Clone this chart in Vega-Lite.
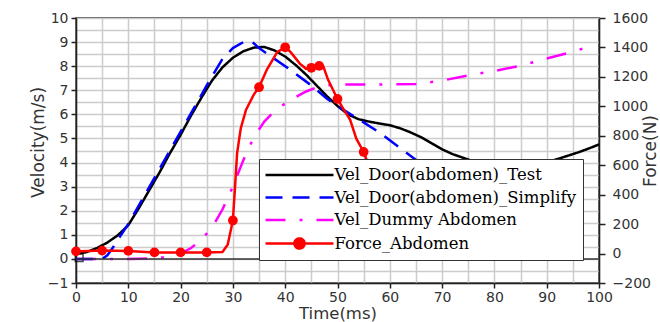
{
  "$schema": "https://vega.github.io/schema/vega-lite/v6.json",
  "width": 523,
  "height": 265,
  "autosize": "none",
  "padding": {"left": 76, "top": 18, "right": 61, "bottom": 39},
  "background": "white",
  "config": {
    "view": {"stroke": "#222", "strokeWidth": 1.5},
    "axis": {
      "labelFont": "DejaVu Sans", "labelFontSize": 14, "labelColor": "#333",
      "titleFont": "DejaVu Sans", "titleFontSize": 17, "titleFontWeight": "normal", "titleColor": "#333",
      "domainColor": "#222", "domainWidth": 1.5, "tickColor": "#222", "tickWidth": 1.5, "tickSize": 5,
      "gridColor": "#cccccc", "gridWidth": 1.5, "gridOpacity": 1, "labelFlush": false, "labelOverlap": false
    },
    "legend": {
      "orient": "none", "legendX": 183, "legendY": 141,
      "fillColor": "white", "strokeColor": "#333", "padding": 6,
      "labelFont": "DejaVu Serif", "labelFontSize": 16.5, "labelColor": "#000", "labelLimit": 0,
      "symbolSize": 289, "symbolStrokeWidth": 2.5, "symbolOffset": 24.5, "labelOffset": 25, "rowPadding": 3.5
    }
  },
  "datasets": {
    "vel": [
      {"series": "Vel_Dummy Abdomen", "t": 0, "v": 0},
      {"series": "Vel_Dummy Abdomen", "t": 10, "v": 0},
      {"series": "Vel_Dummy Abdomen", "t": 15, "v": 0.02},
      {"series": "Vel_Dummy Abdomen", "t": 18, "v": 0.1},
      {"series": "Vel_Dummy Abdomen", "t": 20, "v": 0.22},
      {"series": "Vel_Dummy Abdomen", "t": 22, "v": 0.45},
      {"series": "Vel_Dummy Abdomen", "t": 24, "v": 0.8},
      {"series": "Vel_Dummy Abdomen", "t": 26, "v": 1.3},
      {"series": "Vel_Dummy Abdomen", "t": 28, "v": 2.05},
      {"series": "Vel_Dummy Abdomen", "t": 30, "v": 3.0},
      {"series": "Vel_Dummy Abdomen", "t": 32, "v": 4.1},
      {"series": "Vel_Dummy Abdomen", "t": 34, "v": 5.05},
      {"series": "Vel_Dummy Abdomen", "t": 36, "v": 5.7},
      {"series": "Vel_Dummy Abdomen", "t": 38, "v": 6.15},
      {"series": "Vel_Dummy Abdomen", "t": 40, "v": 6.45},
      {"series": "Vel_Dummy Abdomen", "t": 42, "v": 6.72},
      {"series": "Vel_Dummy Abdomen", "t": 44, "v": 6.95},
      {"series": "Vel_Dummy Abdomen", "t": 46, "v": 7.12},
      {"series": "Vel_Dummy Abdomen", "t": 48, "v": 7.2},
      {"series": "Vel_Dummy Abdomen", "t": 50, "v": 7.24},
      {"series": "Vel_Dummy Abdomen", "t": 55, "v": 7.24},
      {"series": "Vel_Dummy Abdomen", "t": 60, "v": 7.24},
      {"series": "Vel_Dummy Abdomen", "t": 65, "v": 7.26},
      {"series": "Vel_Dummy Abdomen", "t": 70, "v": 7.4},
      {"series": "Vel_Dummy Abdomen", "t": 75, "v": 7.62},
      {"series": "Vel_Dummy Abdomen", "t": 80, "v": 7.8},
      {"series": "Vel_Dummy Abdomen", "t": 85, "v": 8.02},
      {"series": "Vel_Dummy Abdomen", "t": 90, "v": 8.32},
      {"series": "Vel_Dummy Abdomen", "t": 95, "v": 8.6},
      {"series": "Vel_Dummy Abdomen", "t": 98, "v": 8.8},
      {"series": "Vel_Door(abdomen)_Test", "t": 0, "v": 0.2},
      {"series": "Vel_Door(abdomen)_Test", "t": 2, "v": 0.28},
      {"series": "Vel_Door(abdomen)_Test", "t": 4, "v": 0.45},
      {"series": "Vel_Door(abdomen)_Test", "t": 6, "v": 0.68},
      {"series": "Vel_Door(abdomen)_Test", "t": 8, "v": 0.98},
      {"series": "Vel_Door(abdomen)_Test", "t": 10, "v": 1.4},
      {"series": "Vel_Door(abdomen)_Test", "t": 12, "v": 2.1},
      {"series": "Vel_Door(abdomen)_Test", "t": 14, "v": 2.85},
      {"series": "Vel_Door(abdomen)_Test", "t": 16, "v": 3.6},
      {"series": "Vel_Door(abdomen)_Test", "t": 18, "v": 4.4},
      {"series": "Vel_Door(abdomen)_Test", "t": 20, "v": 5.15},
      {"series": "Vel_Door(abdomen)_Test", "t": 22, "v": 5.95},
      {"series": "Vel_Door(abdomen)_Test", "t": 24, "v": 6.7},
      {"series": "Vel_Door(abdomen)_Test", "t": 26, "v": 7.4},
      {"series": "Vel_Door(abdomen)_Test", "t": 28, "v": 7.95},
      {"series": "Vel_Door(abdomen)_Test", "t": 30, "v": 8.35},
      {"series": "Vel_Door(abdomen)_Test", "t": 32, "v": 8.62},
      {"series": "Vel_Door(abdomen)_Test", "t": 34, "v": 8.77},
      {"series": "Vel_Door(abdomen)_Test", "t": 36, "v": 8.8},
      {"series": "Vel_Door(abdomen)_Test", "t": 38, "v": 8.65},
      {"series": "Vel_Door(abdomen)_Test", "t": 40, "v": 8.4},
      {"series": "Vel_Door(abdomen)_Test", "t": 42, "v": 8.05},
      {"series": "Vel_Door(abdomen)_Test", "t": 44, "v": 7.65},
      {"series": "Vel_Door(abdomen)_Test", "t": 46, "v": 7.2},
      {"series": "Vel_Door(abdomen)_Test", "t": 48, "v": 6.75},
      {"series": "Vel_Door(abdomen)_Test", "t": 50, "v": 6.35},
      {"series": "Vel_Door(abdomen)_Test", "t": 52, "v": 6.0},
      {"series": "Vel_Door(abdomen)_Test", "t": 54, "v": 5.8},
      {"series": "Vel_Door(abdomen)_Test", "t": 56, "v": 5.7},
      {"series": "Vel_Door(abdomen)_Test", "t": 58, "v": 5.62},
      {"series": "Vel_Door(abdomen)_Test", "t": 60, "v": 5.55},
      {"series": "Vel_Door(abdomen)_Test", "t": 62, "v": 5.42},
      {"series": "Vel_Door(abdomen)_Test", "t": 64, "v": 5.25},
      {"series": "Vel_Door(abdomen)_Test", "t": 66, "v": 5.05},
      {"series": "Vel_Door(abdomen)_Test", "t": 68, "v": 4.8},
      {"series": "Vel_Door(abdomen)_Test", "t": 70, "v": 4.55},
      {"series": "Vel_Door(abdomen)_Test", "t": 72, "v": 4.35},
      {"series": "Vel_Door(abdomen)_Test", "t": 74, "v": 4.2},
      {"series": "Vel_Door(abdomen)_Test", "t": 76, "v": 4.05},
      {"series": "Vel_Door(abdomen)_Test", "t": 78, "v": 3.95},
      {"series": "Vel_Door(abdomen)_Test", "t": 80, "v": 3.87},
      {"series": "Vel_Door(abdomen)_Test", "t": 82, "v": 3.83},
      {"series": "Vel_Door(abdomen)_Test", "t": 84, "v": 3.83},
      {"series": "Vel_Door(abdomen)_Test", "t": 86, "v": 3.86},
      {"series": "Vel_Door(abdomen)_Test", "t": 88, "v": 3.92},
      {"series": "Vel_Door(abdomen)_Test", "t": 90, "v": 4.02},
      {"series": "Vel_Door(abdomen)_Test", "t": 92, "v": 4.14},
      {"series": "Vel_Door(abdomen)_Test", "t": 94, "v": 4.28},
      {"series": "Vel_Door(abdomen)_Test", "t": 96, "v": 4.42},
      {"series": "Vel_Door(abdomen)_Test", "t": 98, "v": 4.58},
      {"series": "Vel_Door(abdomen)_Test", "t": 100, "v": 4.75},
      {"series": "Vel_Door(abdomen)_Simplify", "t": 0, "v": 0},
      {"series": "Vel_Door(abdomen)_Simplify", "t": 5, "v": 0},
      {"series": "Vel_Door(abdomen)_Simplify", "t": 6, "v": 0.15},
      {"series": "Vel_Door(abdomen)_Simplify", "t": 7, "v": 0.45},
      {"series": "Vel_Door(abdomen)_Simplify", "t": 8, "v": 0.8},
      {"series": "Vel_Door(abdomen)_Simplify", "t": 10, "v": 1.45},
      {"series": "Vel_Door(abdomen)_Simplify", "t": 13, "v": 2.6},
      {"series": "Vel_Door(abdomen)_Simplify", "t": 16, "v": 3.75},
      {"series": "Vel_Door(abdomen)_Simplify", "t": 19, "v": 4.9},
      {"series": "Vel_Door(abdomen)_Simplify", "t": 22, "v": 6.05},
      {"series": "Vel_Door(abdomen)_Simplify", "t": 25, "v": 7.2},
      {"series": "Vel_Door(abdomen)_Simplify", "t": 28, "v": 8.3},
      {"series": "Vel_Door(abdomen)_Simplify", "t": 30, "v": 8.75},
      {"series": "Vel_Door(abdomen)_Simplify", "t": 32, "v": 9.0},
      {"series": "Vel_Door(abdomen)_Simplify", "t": 33, "v": 9.05},
      {"series": "Vel_Door(abdomen)_Simplify", "t": 34, "v": 8.95},
      {"series": "Vel_Door(abdomen)_Simplify", "t": 35, "v": 8.75},
      {"series": "Vel_Door(abdomen)_Simplify", "t": 40, "v": 8.0},
      {"series": "Vel_Door(abdomen)_Simplify", "t": 45, "v": 7.2},
      {"series": "Vel_Door(abdomen)_Simplify", "t": 48, "v": 6.65},
      {"series": "Vel_Door(abdomen)_Simplify", "t": 50, "v": 6.35},
      {"series": "Vel_Door(abdomen)_Simplify", "t": 54, "v": 5.8},
      {"series": "Vel_Door(abdomen)_Simplify", "t": 58, "v": 5.25},
      {"series": "Vel_Door(abdomen)_Simplify", "t": 62, "v": 4.6},
      {"series": "Vel_Door(abdomen)_Simplify", "t": 66, "v": 3.95},
      {"series": "Vel_Door(abdomen)_Simplify", "t": 70, "v": 3.3}
    ],
    "force": [
      {"t": 0, "F": 15}, {"t": 1, "F": 15}, {"t": 5, "F": 20}, {"t": 10, "F": 18},
      {"t": 15, "F": 8}, {"t": 20, "F": 8}, {"t": 25, "F": 8}, {"t": 28, "F": 10},
      {"t": 29, "F": 60}, {"t": 30, "F": 225}, {"t": 30.4, "F": 450}, {"t": 30.8, "F": 680},
      {"t": 31.5, "F": 850}, {"t": 32.5, "F": 975}, {"t": 34, "F": 1080}, {"t": 35, "F": 1130},
      {"t": 36.5, "F": 1250}, {"t": 38.5, "F": 1370}, {"t": 40, "F": 1401}, {"t": 41, "F": 1370},
      {"t": 42.8, "F": 1290}, {"t": 44, "F": 1255}, {"t": 45, "F": 1262}, {"t": 46.5, "F": 1275},
      {"t": 47.3, "F": 1270}, {"t": 48.2, "F": 1180}, {"t": 50, "F": 1050}, {"t": 51, "F": 990},
      {"t": 52.4, "F": 910}, {"t": 53.6, "F": 780}, {"t": 55, "F": 690}, {"t": 57, "F": 500},
      {"t": 60, "F": 300}
    ],
    "forceMarkers": [
      {"t": 0, "F": 15}, {"t": 5, "F": 20}, {"t": 10, "F": 18}, {"t": 15, "F": 8},
      {"t": 20, "F": 8}, {"t": 25, "F": 8}, {"t": 30, "F": 225}, {"t": 35, "F": 1130},
      {"t": 40, "F": 1401}, {"t": 45, "F": 1262}, {"t": 46.5, "F": 1275}, {"t": 50, "F": 1050},
      {"t": 55, "F": 690}
    ],
    "origin": [{"t": 0.6, "v": 0.05}]
  },
  "layer": [
    {
      "layer": [
        {
          "data": {"name": "vel"},
          "mark": {"type": "line", "strokeWidth": 2.5},
          "encoding": {
            "x": {
              "field": "t", "type": "quantitative",
              "scale": {"domain": [0, 100], "nice": false},
              "axis": {
                "title": "Time(ms)", "grid": true, "titleFontSize": 16.5, "tickCount": 100,
                "values": [0, 5, 10, 15, 20, 25, 30, 35, 40, 45, 50, 55, 60, 65, 70, 75, 80, 85, 90, 95, 100],
                "labelExpr": "datum.value % 10 === 0 ? datum.label : ''",
                "tickSize": {"condition": {"test": "datum.value % 10 !== 0", "value": 0}, "value": 5},
                "labelPadding": 2, "titlePadding": 1.5
              }
            },
            "y": {
              "field": "v", "type": "quantitative",
              "scale": {"domain": [-1, 10], "nice": false},
              "axis": {
                "title": "Velocity(m/s)", "grid": true, "format": ".0f", "tickCount": 100,
                "values": [-1, -0.5, 0, 0.5, 1, 1.5, 2, 2.5, 3, 3.5, 4, 4.5, 5, 5.5, 6, 6.5, 7, 7.5, 8, 8.5, 9, 9.5, 10],
                "labelExpr": "datum.value % 1 === 0 ? datum.label : ''",
                "tickSize": {"condition": {"test": "datum.value % 1 !== 0", "value": 0}, "value": 5},
                "labelPadding": 3, "titlePadding": 0, "titleY": 124
              }
            },
            "color": {
              "field": "series", "type": "nominal",
              "scale": {
                "domain": ["Vel_Door(abdomen)_Test", "Vel_Door(abdomen)_Simplify", "Vel_Dummy Abdomen", "Force_Abdomen"],
                "range": ["#000000", "#0000ff", "#ff00ff", "#ff0000"]
              },
              "sort": ["Vel_Door(abdomen)_Test", "Vel_Door(abdomen)_Simplify", "Vel_Dummy Abdomen", "Force_Abdomen"],
              "legend": {
                "title": null,
                "encode": {
                  "symbols": {
                    "update": {
                      "shape": {"signal": "datum.value === 'Force_Abdomen' ? 'M-4,0L4,0M-0.6,0A0.6,0.6,0,1,1,0.6,0A0.6,0.6,0,1,1,-0.6,0Z' : 'M-4,0L4,0'"},
                      "fill": {"signal": "datum.value === 'Force_Abdomen' ? '#ff0000' : 'transparent'"},
                      "strokeDash": {"signal": "datum.value === 'Vel_Door(abdomen)_Simplify' ? [17, 10] : datum.value === 'Vel_Dummy Abdomen' ? [20, 14, 3, 14] : [1, 0]"},
                      "strokeWidth": {"value": 2.5},
                      "opacity": {"value": 1}
                    }
                  }
                }
              }
            },
            "strokeDash": {
              "field": "series", "type": "nominal",
              "scale": {
                "domain": ["Vel_Door(abdomen)_Test", "Vel_Door(abdomen)_Simplify", "Vel_Dummy Abdomen"],
                "range": [[1, 0], [17, 10], [20, 14, 3, 14]]
              },
              "legend": null
            }
          }
        },
        {
          "data": {"name": "origin"},
          "mark": {"type": "square", "filled": false, "color": "#000", "size": 60, "strokeWidth": 1.5},
          "encoding": {
            "x": {"field": "t", "type": "quantitative"},
            "y": {"field": "v", "type": "quantitative"}
          }
        },
        {
          "data": {"values": [{}]},
          "mark": {"type": "rule", "color": "#333", "strokeWidth": 1.5},
          "encoding": {"y": {"datum": 0, "type": "quantitative"}}
        }
      ]
    },
    {
      "layer": [
        {
          "data": {"name": "force"},
          "mark": {"type": "line", "color": "#ff0000", "strokeWidth": 2.5},
          "encoding": {
            "x": {"field": "t", "type": "quantitative"},
            "y": {
              "field": "F", "type": "quantitative",
              "scale": {"domain": [-200, 1600], "nice": false},
              "axis": {
                "orient": "right", "title": "Force(N)", "grid": false, "format": "d", "tickCount": 100,
                "values": [-200, 0, 200, 400, 600, 800, 1000, 1200, 1400, 1600],
                "labelPadding": 7, "tickSize": 6, "titlePadding": 9, "titleAngle": 270
              }
            }
          }
        },
        {
          "data": {"name": "forceMarkers"},
          "mark": {"type": "point", "filled": true, "color": "#ff0000", "size": 95, "opacity": 1},
          "encoding": {
            "x": {"field": "t", "type": "quantitative"},
            "y": {"field": "F", "type": "quantitative"}
          }
        }
      ]
    }
  ],
  "resolve": {"scale": {"y": "independent"}}
}
